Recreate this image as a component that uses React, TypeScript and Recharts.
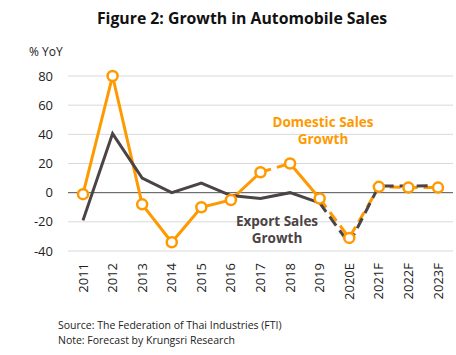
import { LineChart, Line, XAxis, YAxis, CartesianGrid, ReferenceLine } from 'recharts';

const years = ['2011', '2012', '2013', '2014', '2015', '2016', '2017', '2018', '2019', '2020E', '2021F', '2022F', '2023F'];
const domestic = [-1, 80, -8, -34, -10, -5, 14, 20, -4, -31, 4, 3.5, 3.5];
const exportSales = [-19, 40.5, 10, 0, 6.5, -2, -4, 0, -7, -35, 4.5, 4.5, 5];
const yTicks = [-40, -20, 0, 20, 40, 60, 80];

const ORANGE = '#FF9900';
const GRAY = '#4B4344';
const FONT = '"Open Sans", sans-serif';

// keep only points i in [from, to]
const seg = (vals: number[], from: number, to: number) =>
  vals.map((v, i) => (i >= from && i <= to ? v : null));

const rows = years.map((year, i) => ({
  year,
  dom: domestic[i],
  domA: seg(domestic, 0, 6)[i],
  domB: seg(domestic, 6, 7)[i],
  domC: seg(domestic, 7, 8)[i],
  domF: seg(domestic, 8, 12)[i],
  expA: seg(exportSales, 0, 8)[i],
  expF: seg(exportSales, 8, 12)[i],
}));

const YearTick = ({ x, y, payload }: any) => (
  <text
    x={x}
    y={y + 4}
    transform={`rotate(-90 ${x} ${y + 4})`}
    textAnchor="end"
    dy="0.35em"
    fontSize={13}
    fontFamily={FONT}
    fill="#222"
  >
    {payload.value}
  </text>
);

const lineProps = { dot: false, activeDot: false, isAnimationActive: false, connectNulls: false } as const;

const noteStyle = { position: 'absolute', textAlign: 'center', fontWeight: 700, fontSize: 13.5, lineHeight: '17px', whiteSpace: 'nowrap' } as const;

export default function App() {
  return (
    <div style={{ position: 'absolute', left: 0, top: 0, width: 456, height: 355, background: '#fff', fontFamily: FONT }}>
      <div style={{ position: 'absolute', left: 0, width: 484, top: 7, textAlign: 'center', fontWeight: 700, fontSize: 15.8, color: '#111' }}>
        Figure 2: Growth in Automobile Sales
      </div>
      <div style={{ position: 'absolute', left: 29, top: 43, fontSize: 12, color: '#222' }}>% YoY</div>
      <LineChart width={456} height={355} data={rows} margin={{ top: 76, right: 3, bottom: 0, left: 0 }}>
        <CartesianGrid vertical={false} stroke="#D9D9D9" strokeWidth={1} />
        <XAxis
          dataKey="year"
          axisLine={false}
          tickLine={false}
          interval={0}
          tick={<YearTick />}
          height={104}
          padding={{ left: 15, right: 15 }}
        />
        <YAxis
          domain={[-40, 80]}
          ticks={yTicks}
          width={68}
          axisLine={false}
          tickLine={false}
          tickMargin={9}
          tick={{ fontSize: 13, fontFamily: FONT, fill: '#222' }}
        />
        <ReferenceLine y={0} stroke="#595959" strokeWidth={1} />
        <Line dataKey="domA" stroke={ORANGE} strokeWidth={3} {...lineProps} />
        <Line dataKey="domB" stroke={ORANGE} strokeWidth={3} strokeDasharray="11 6" {...lineProps} />
        <Line dataKey="domC" stroke={ORANGE} strokeWidth={3} {...lineProps} />
        <Line dataKey="domF" stroke={ORANGE} strokeWidth={3} strokeDasharray="11 6" {...lineProps} />
        <Line
          dataKey="dom"
          stroke="none"
          dot={{ r: 5, stroke: ORANGE, strokeWidth: 2.5, fill: '#fff' }}
          activeDot={false}
          isAnimationActive={false}
        />
        <Line dataKey="expA" stroke={GRAY} strokeWidth={3} {...lineProps} />
        <Line dataKey="expF" stroke={GRAY} strokeWidth={3} strokeDasharray="11 6" {...lineProps} />
      </LineChart>
      <div style={{ ...noteStyle, left: 263, width: 120, top: 114, color: ORANGE }}>
        Domestic Sales
        <br />
        Growth
      </div>
      <div style={{ ...noteStyle, left: 217, width: 120, top: 213, color: GRAY }}>
        Export Sales
        <br />
        Growth
      </div>
      <div style={{ position: 'absolute', left: 58, top: 318, fontSize: 10.5, lineHeight: '15px', color: '#222' }}>
        Source: The Federation of Thai Industries (FTI)
        <br />
        Note: Forecast by Krungsri Research
      </div>
    </div>
  );
}
